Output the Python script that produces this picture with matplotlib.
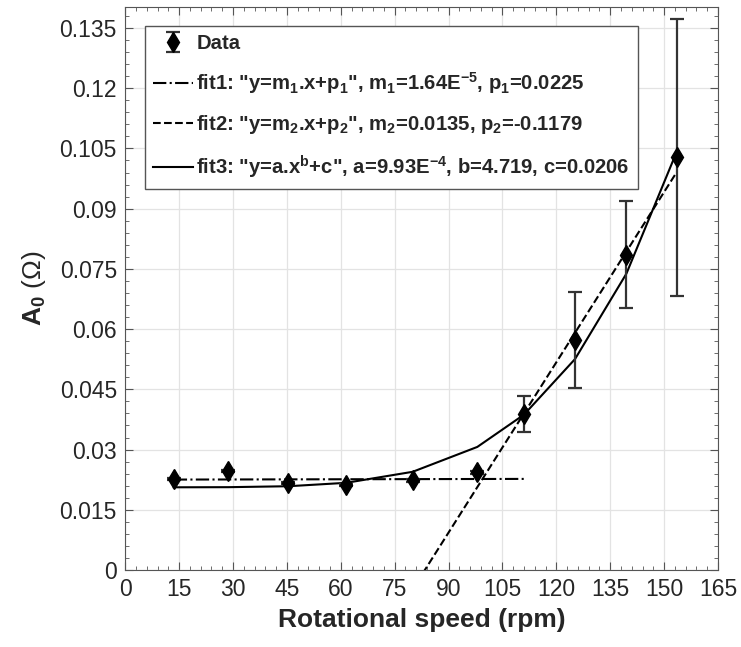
import numpy as np
import matplotlib
matplotlib.use('Agg')
import matplotlib.pyplot as plt

speed_rpm = [13.5, 28.7, 45.4, 61.5, 80.0, 98.0, 111.0, 125.2, 139.5, 153.5]
a0 = [0.0227, 0.0247, 0.0217, 0.0211, 0.0223, 0.0243, 0.0388, 0.0573, 0.0785, 0.1028]
a0_err = [0.0003, 0.0003, 0.0003, 0.0003, 0.0003, 0.0004, 0.0045, 0.0120, 0.0133, 0.0345]

# fit parameters as printed in the legend
m1, p1 = 1.64e-5, 0.0225       # x in rad/s
m2, p2 = 0.0135, -0.1179       # x in rad/s
a3, b3, c3 = 9.93e-4, 4.719, 0.0206   # x in rev/s
n_fit1 = 7

x_ticks = [0, 15, 30, 45, 60, 75, 90, 105, 120, 135, 150, 165]
y_ticks = [0, 0.015, 0.03, 0.045, 0.06, 0.075, 0.09, 0.105, 0.12, 0.135]
y_ticklabels = ['0', '0.015', '0.03', '0.045', '0.06', '0.075', '0.09', '0.105', '0.12', '0.135']

plt.rcParams['font.family'] = ['Liberation Sans', 'DejaVu Sans']
plt.rcParams['mathtext.fontset'] = 'custom'
plt.rcParams['mathtext.rm'] = 'Liberation Sans'
plt.rcParams['mathtext.bf'] = 'Liberation Sans:bold'
plt.rcParams['mathtext.default'] = 'bf'

txt = '#262626'
x = np.array(speed_rpm)
w = x * 2 * np.pi / 60
rps = x / 60

fig = plt.figure(figsize=(7.41, 6.47), dpi=100)
ax = fig.add_axes([0.169, 0.119, 0.800, 0.870])

h_data = ax.errorbar(x, a0, yerr=a0_err, fmt='d', color='k', ecolor='#333333',
                     markersize=10, elinewidth=1.6, capsize=5, capthick=1.6,
                     label='Data', zorder=5)
h1, = ax.plot(x[:n_fit1], m1 * w[:n_fit1] + p1, '-.', color='k', lw=1.5,
              label='fit1: "y=m$_1$.x+p$_1$", m$_1$=1.64E$^{-5}$, p$_1$=0.0225')
h2, = ax.plot(x, m2 * w + p2, '--', color='k', lw=1.5,
              label='fit2: "y=m$_2$.x+p$_2$", m$_2$=0.0135, p$_2$=-0.1179')
h3, = ax.plot(x, a3 * rps ** b3 + c3, '-', color='k', lw=1.5,
              label='fit3: "y=a.x$^b$+c", a=9.93E$^{-4}$, b=4.719, c=0.0206')

ax.set_xlim(0, 165)
ax.set_ylim(0, 0.1402)
ax.set_xticks(x_ticks)
ax.set_yticks(y_ticks)
ax.set_yticklabels(y_ticklabels)
ax.set_xticks(np.arange(0, 166, 3), minor=True)
ax.set_yticks(np.arange(0, 0.1402, 0.003), minor=True)
ax.tick_params(which='both', direction='in', top=True, right=True,
               colors='#555555', labelcolor=txt, labelsize=16.5, pad=6)
ax.tick_params(which='major', length=6)
ax.tick_params(which='minor', length=3)
ax.grid(True, which='major', color='#e3e3e3', lw=0.9)
ax.set_axisbelow(True)
for s in ax.spines.values():
    s.set_color('#555555')

ax.set_xlabel('Rotational speed (rpm)', fontsize=19, fontweight='bold', color=txt, labelpad=5)
ax.set_ylabel(r'A$_0$ $\mathrm{(\Omega)}$', fontsize=19, fontweight='bold', color=txt, labelpad=8)

leg = ax.legend(handles=[h_data, h1, h2, h3], loc='upper left',
                bbox_to_anchor=(0.033, 0.967), prop={'weight': 'bold', 'size': 14.6},
                labelspacing=0.85, handlelength=2.0, handletextpad=0.15,
                borderpad=0.4, borderaxespad=0.0, fancybox=False, framealpha=1)
leg.get_frame().set_edgecolor('#555555')
leg.get_frame().set_linewidth(1.0)
for t in leg.get_texts():
    t.set_color(txt)

fig.savefig('out.png', dpi=100)
